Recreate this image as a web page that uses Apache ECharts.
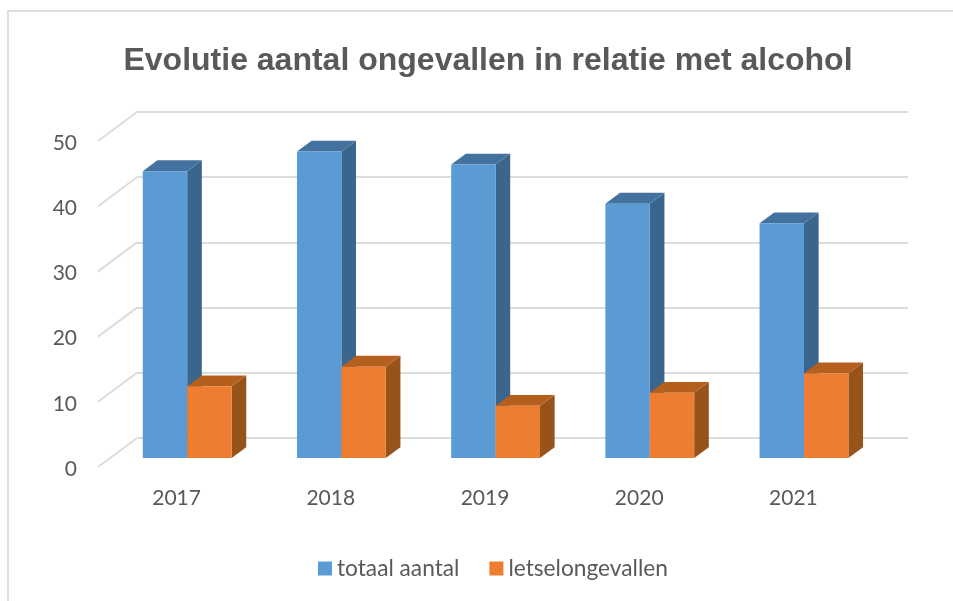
<!DOCTYPE html>
<html>
<head>
<meta charset="utf-8">
<style>html,body{margin:0;padding:0;background:#fff}#c{width:953px;height:601px}</style>
<script src="https://cdn.jsdelivr.net/npm/echarts@6/dist/echarts.min.js"></script>
</head>
<body>
<div id="c"></div>
<script>
const categories = ['2017', '2018', '2019', '2020', '2021'];
const totaalAantal = [44, 47, 45, 39, 36];
const letselongevallen = [11, 14, 8, 10, 13];
const valueTicks = [0, 10, 20, 30, 40, 50];

const FONT = 'Lato, "Open Sans", sans-serif';
const WALL = '#DCDCDC';
const DEPTH_X = 39, DEPTH_Y = -29;      // floor depth in pixels
const NEAR = 0.31;                      // bar starts this far into the depth
const BAR_DEPTH = 0.375;                // bar depth as a share of floor depth

function barSeries(name, values, sideIndex, front, top, side) {
  return {
    name,
    type: 'custom',
    xAxisIndex: 0,
    yAxisIndex: 0,
    z: 3,
    clip: false,
    itemStyle: { color: front },
    encode: { x: 0, y: 1 },
    data: values.map((v, i) => [i, v]),
    renderItem(params, api) {
      const base = api.coord([api.value(0), 0]);
      const head = api.coord([api.value(0), api.value(1)]);
      const band = api.size([1, 0])[0];
      const w = band * 0.288;
      const nx = DEPTH_X * NEAR, ny = DEPTH_Y * NEAR;
      const dx = DEPTH_X * BAR_DEPTH, dy = DEPTH_Y * BAR_DEPTH;
      const x0 = base[0] + nx + (sideIndex === 0 ? -w : 0);
      const x1 = x0 + w;
      const yb = base[1] + ny;
      const yt = head[1] + ny;
      const poly = (points, color) => ({ type: 'polygon', shape: { points }, style: { fill: color }, silent: true });
      return {
        type: 'group',
        children: [
          poly([[x1, yt], [x1 + dx, yt + dy], [x1 + dx, yb + dy], [x1, yb]], side),
          poly([[x0, yt], [x0 + dx, yt + dy], [x1 + dx, yt + dy], [x1, yt]], top),
          { type: 'rect', shape: { x: x0, y: yt, width: w, height: yb - yt }, style: { fill: front }, silent: true }
        ]
      };
    }
  };
}

const chart = echarts.init(document.getElementById('c'), null, { renderer: 'canvas' });
chart.setOption({
  animation: false,
  backgroundColor: '#ffffff',
  title: {
    text: 'Evolutie aantal ongevallen in relatie met alcohol',
    left: 483,
    top: 40,
    textAlign: 'center',
    textStyle: { fontFamily: '"Liberation Sans", Arial, sans-serif', fontSize: 32, fontWeight: 'bold', color: '#595959' }
  },
  legend: {
    left: 318,
    top: 557,
    padding: 0,
    itemWidth: 14,
    itemHeight: 14,
    itemGap: 30,
    icon: 'rect',
    data: ['totaal aantal', 'letselongevallen'],
    textStyle: { fontFamily: FONT, fontSize: 22.7, color: '#595959' }
  },
  grid: [
    { left: 98, top: 141, width: 771, height: 326 },
    { left: 98 + DEPTH_X, top: 141 + DEPTH_Y, width: 771, height: 326 }
  ],
  xAxis: [
    { type: 'category', gridIndex: 0, data: categories, axisLine: { show: false }, axisTick: { show: false },
      axisLabel: { margin: 21, padding: [0, 0, 0, 3], fontFamily: FONT, fontSize: 21, color: '#595959' } },
    { type: 'category', gridIndex: 1, data: categories, show: false }
  ],
  yAxis: [
    { type: 'value', gridIndex: 0, min: 0, max: 50, interval: 10, splitLine: { show: false },
      axisLine: { show: false }, axisTick: { show: false },
      axisLabel: { margin: 21, verticalAlign: 'top', padding: [-8.5, 0, 0, 0], fontFamily: FONT, fontSize: 21, color: '#595959' } },
    { type: 'value', gridIndex: 1, min: 0, max: 50, interval: 10,
      axisLine: { show: false }, axisTick: { show: false }, axisLabel: { show: false },
      splitLine: { show: true, lineStyle: { color: WALL, width: 2 } } }
  ],
  series: [
    {
      type: 'custom',
      xAxisIndex: 0,
      yAxisIndex: 0,
      z: 1,
      clip: false,
      silent: true,
      legendHoverLink: false,
      encode: { y: 0 },
      data: valueTicks.map(v => [v]),
      renderItem(params, api) {
        const p = api.coord([0, api.value(0)]);
        const left = params.coordSys.x;
        return {
          type: 'line',
          shape: { x1: left, y1: p[1], x2: left + DEPTH_X, y2: p[1] + DEPTH_Y },
          style: { stroke: WALL, lineWidth: 2 }
        };
      }
    },
    barSeries('totaal aantal', totaalAantal, 0, '#5B9BD5', '#44729F', '#3A658C'),
    barSeries('letselongevallen', letselongevallen, 1, '#ED7D31', '#B55F1E', '#98531B')
  ],
  graphic: [
    { type: 'polyline', silent: true, z: 0,
      shape: { points: [[8, 601], [8, 11], [953, 11]] },
      style: { stroke: '#DEDEDE', lineWidth: 2, fill: null } }
  ]
});
</script>
</body>
</html>
